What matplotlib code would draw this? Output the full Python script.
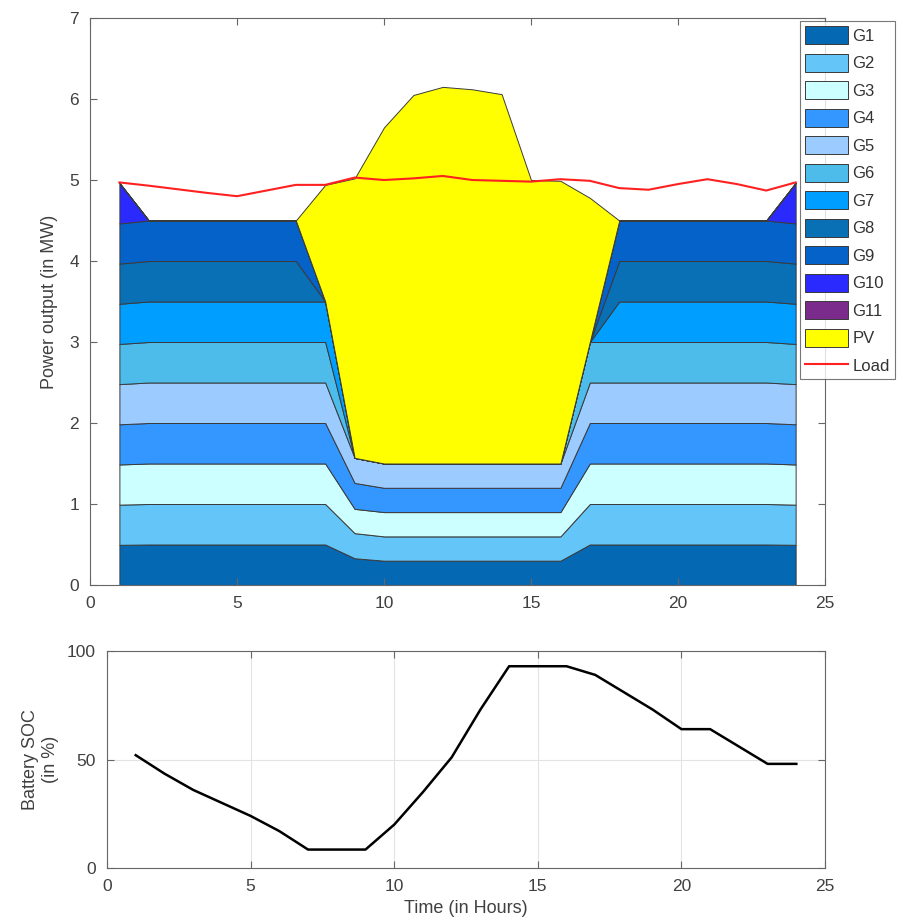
import matplotlib
matplotlib.use('Agg')
import matplotlib.pyplot as plt

plt.rcParams['font.family'] = ['Liberation Sans', 'DejaVu Sans']

hours = list(range(1, 25))

# generator outputs (MW), hours 1..24
g1 = [0.496, 0.5, 0.5, 0.5, 0.5, 0.5, 0.5, 0.5, 0.33, 0.3, 0.3, 0.3, 0.3, 0.3, 0.3, 0.3, 0.5, 0.5, 0.5, 0.5, 0.5, 0.5, 0.5, 0.496]
g2 = [0.496, 0.5, 0.5, 0.5, 0.5, 0.5, 0.5, 0.5, 0.31, 0.3, 0.3, 0.3, 0.3, 0.3, 0.3, 0.3, 0.5, 0.5, 0.5, 0.5, 0.5, 0.5, 0.5, 0.496]
g3 = [0.496, 0.5, 0.5, 0.5, 0.5, 0.5, 0.5, 0.5, 0.30, 0.3, 0.3, 0.3, 0.3, 0.3, 0.3, 0.3, 0.5, 0.5, 0.5, 0.5, 0.5, 0.5, 0.5, 0.496]
g4 = [0.496, 0.5, 0.5, 0.5, 0.5, 0.5, 0.5, 0.5, 0.32, 0.3, 0.3, 0.3, 0.3, 0.3, 0.3, 0.3, 0.5, 0.5, 0.5, 0.5, 0.5, 0.5, 0.5, 0.496]
g5 = [0.496, 0.5, 0.5, 0.5, 0.5, 0.5, 0.5, 0.5, 0.31, 0.3, 0.3, 0.3, 0.3, 0.3, 0.3, 0.3, 0.5, 0.5, 0.5, 0.5, 0.5, 0.5, 0.5, 0.496]
g6 = [0.496, 0.5, 0.5, 0.5, 0.5, 0.5, 0.5, 0.5, 0.0, 0.0, 0.0, 0.0, 0.0, 0.0, 0.0, 0.0, 0.5, 0.5, 0.5, 0.5, 0.5, 0.5, 0.5, 0.496]
g7 = [0.496, 0.5, 0.5, 0.5, 0.5, 0.5, 0.5, 0.5, 0.0, 0.0, 0.0, 0.0, 0.0, 0.0, 0.0, 0.0, 0.0, 0.5, 0.5, 0.5, 0.5, 0.5, 0.5, 0.496]
g8 = [0.496, 0.5, 0.5, 0.5, 0.5, 0.5, 0.5, 0.0, 0.0, 0.0, 0.0, 0.0, 0.0, 0.0, 0.0, 0.0, 0.0, 0.5, 0.5, 0.5, 0.5, 0.5, 0.5, 0.496]
g9 = [0.496, 0.5, 0.5, 0.5, 0.5, 0.5, 0.5, 0.0, 0.0, 0.0, 0.0, 0.0, 0.0, 0.0, 0.0, 0.0, 0.0, 0.5, 0.5, 0.5, 0.5, 0.5, 0.5, 0.496]
g10 = [0.5, 0, 0, 0, 0, 0, 0, 0, 0, 0, 0, 0, 0, 0, 0, 0, 0, 0, 0, 0, 0, 0, 0, 0.5]
g11 = [0] * 24
pv = [0, 0, 0, 0, 0, 0, 0, 1.44, 3.45, 4.15, 4.55, 4.65, 4.62, 4.56, 3.5, 3.49, 1.78, 0, 0, 0, 0, 0, 0, 0]
load = [4.97, 4.93, 4.885, 4.84, 4.80, 4.87, 4.94, 4.94, 5.03, 5.00, 5.02, 5.05,
        5.00, 4.99, 4.98, 5.01, 4.99, 4.90, 4.88, 4.95, 5.01, 4.95, 4.87, 4.97]

soc = [52, 43.5, 36, 30, 24, 17, 8.5, 8.5, 8.5, 20, 35, 51,
       73, 93, 93, 93, 89, 81, 73, 64, 64, 56, 48, 48]

labels = ['G1', 'G2', 'G3', 'G4', 'G5', 'G6', 'G7', 'G8', 'G9', 'G10', 'G11', 'PV']
colors = ['#0568B3', '#64C6F8', '#CCFFFF', '#3397FF', '#9BCBFF', '#4DBCEB',
          '#009FFF', '#0A70B6', '#0462C9', '#2A2AFF', '#7A2B8C', '#FFFF00']

txt = '#404040'
spine_c = '#666666'

fig = plt.figure(figsize=(9, 9.24), dpi=100)

# Top: stacked generation
ax = fig.add_axes([0.1, 0.3669, 0.8167, 0.6136])
ax.stackplot(hours, g1, g2, g3, g4, g5, g6, g7, g8, g9, g10, g11, pv,
             colors=colors, labels=labels, edgecolor='#3a3a3a', linewidth=0.7)
ax.plot(hours, load, color='#FF2020', linewidth=1.5, label='Load')
ax.set_xlim(0, 25)
ax.set_ylim(0, 7)
ax.set_xticks([0, 5, 10, 15, 20, 25])
ax.set_yticks(range(0, 8))
ax.set_ylabel('Power output (in MW)', fontsize=13, color=txt, labelpad=8)
ax.tick_params(direction='in', top=True, right=True, labelsize=12.5,
               colors=spine_c, labelcolor=txt, length=5, pad=8)
for s in ax.spines.values():
    s.set_color(spine_c)

handles, lbls = ax.get_legend_handles_labels()
leg = fig.legend(handles, lbls, loc='upper left', bbox_to_anchor=(0.889, 0.977),
                 fontsize=12, frameon=True, fancybox=False, edgecolor='#555555',
                 handlelength=2.6, handleheight=1.3, labelspacing=0.56,
                 handletextpad=0.25, borderpad=0.3, borderaxespad=0.0)
leg.get_frame().set_linewidth(0.8)
for t in leg.get_texts():
    t.set_color('#333333')

# Bottom: battery SOC
ax2 = fig.add_axes([0.1189, 0.0606, 0.7978, 0.2348])
ax2.plot(hours, soc, color='black', linewidth=1.8)
ax2.set_xlim(0, 25)
ax2.set_ylim(0, 100)
ax2.set_xticks([0, 5, 10, 15, 20, 25])
ax2.set_yticks([0, 50, 100])
ax2.grid(True, color='#e3e3e3', linewidth=0.8)
ax2.set_xlabel('Time (in Hours)', fontsize=13, color=txt, labelpad=4)
ax2.set_ylabel('Battery SOC\n(in %)', fontsize=13, color=txt, labelpad=6)
ax2.tick_params(direction='in', top=True, right=True, labelsize=12.5,
                colors=spine_c, labelcolor=txt, length=5, pad=8)
for s in ax2.spines.values():
    s.set_color(spine_c)

fig.savefig('out.png', dpi=100)
